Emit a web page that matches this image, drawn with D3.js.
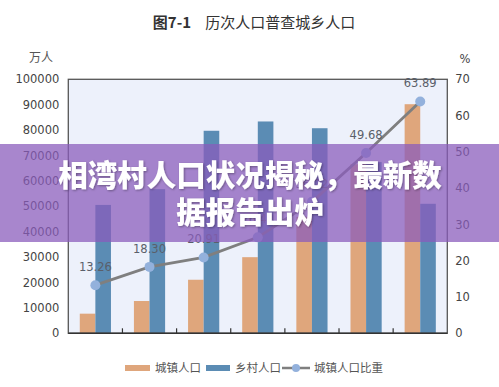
<!DOCTYPE html>
<html><head><meta charset="utf-8">
<script src="https://cdn.jsdelivr.net/npm/d3@7"></script>
<style>
html,body{margin:0;padding:0;background:#fff;}
svg{display:block;}
</style></head>
<body>
<svg id="chart" width="499" height="387"></svg>
<script>
const categories = ["1953","1964","1982","1990","2000","2010","2020"];
const urban = [7726, 12710, 21082, 29971, 45844, 66557, 90199];
const rural = [50534, 56748, 79736, 83397, 80739, 67415, 50979];
const ratio = [13.26, 18.30, 20.91, 26.44, 36.22, 49.68, 63.89];
const leftTicks = [0,10000,20000,30000,40000,50000,60000,70000,80000,90000,100000];
const rightTicks = [0,10,20,30,40,50,60,70];
const seriesNames = ["城镇人口","乡村人口","城镇人口比重"];
const titleText = ["图7-1","历次人口普查城乡人口"];
const bannerLines = ["相湾村人口状况揭秘，最新数","据报告出炉"];

const svg = d3.select("#chart");
const L = 68.3, R = 447.3, T = 79.3, B = 333.3;
const cOrange = "#dfa67c", cBlue = "#5b8cb4", cLine = "#7f7f7f", cMark = "#93b1dc";
const numFont = "DejaVu Sans, sans-serif";
const cjkFont = "'Noto Sans CJK SC', sans-serif";

const x0 = d3.scaleBand().domain(categories).range([L, R]).paddingInner(0.424).paddingOuter(0.212);
const x1 = d3.scaleBand().domain(["u","r"]).range([0, x0.bandwidth()]);
const yL = d3.scaleLinear().domain([0, 100000]).range([B, T]);
const yR = d3.scaleLinear().domain([0, 70]).range([B, T]);

// title
const tt = svg.append("text").attr("x", 254).attr("y", 28).attr("text-anchor", "middle")
  .attr("fill", "#333").attr("font-family", cjkFont).attr("font-size", 15);
tt.append("tspan").attr("font-weight", "bold").text(titleText[0]);
tt.append("tspan").attr("dx", 14).text(titleText[1]);

// plot background
svg.append("rect").attr("x", L).attr("y", T).attr("width", R - L).attr("height", B - T).attr("fill", "#edf1fb");

// bars
const g = svg.append("g");
categories.forEach((c, i) => {
  g.append("rect").attr("x", x0(c) + x1("u")).attr("width", x1.bandwidth())
    .attr("y", yL(urban[i])).attr("height", B - yL(urban[i])).attr("fill", cOrange);
  g.append("rect").attr("x", x0(c) + x1("r")).attr("width", x1.bandwidth())
    .attr("y", yL(rural[i])).attr("height", B - yL(rural[i])).attr("fill", cBlue);
});

// border
svg.append("rect").attr("x", L).attr("y", T).attr("width", R - L).attr("height", B - T)
  .attr("fill", "none").attr("stroke", "#555").attr("stroke-width", 1.3);
svg.append("line").attr("x1", L).attr("x2", R).attr("y1", B).attr("y2", B).attr("stroke", "#333").attr("stroke-width", 1.6);

// x ticks at group boundaries
const step = x0.step();
for (let i = 1; i < categories.length; i++) {
  const xx = L + step * i;
  svg.append("line").attr("x1", xx).attr("x2", xx).attr("y1", B).attr("y2", B - 5).attr("stroke", "#333").attr("stroke-width", 1.2);
}

// left axis labels
const axL = svg.append("g").attr("transform", `translate(${L},0)`)
  .call(d3.axisLeft(yL).tickValues(leftTicks).tickSize(0).tickPadding(9).tickFormat(d3.format("d")));
axL.select(".domain").remove();
axL.selectAll("text").attr("font-family", numFont).attr("font-size", 11.5).attr("fill", "#444");

const axR = svg.append("g").attr("transform", `translate(${R},0)`)
  .call(d3.axisRight(yR).tickValues(rightTicks).tickSize(0).tickPadding(8).tickFormat(d3.format("d")));
axR.select(".domain").remove();
axR.selectAll("text").attr("font-family", numFont).attr("font-size", 11.5).attr("fill", "#444");

svg.append("text").attr("x", 41).attr("y", 62).attr("text-anchor", "middle")
  .attr("font-family", cjkFont).attr("font-size", 12).attr("fill", "#555").text("万人");
svg.append("text").attr("x", 465).attr("y", 63).attr("text-anchor", "middle")
  .attr("font-family", numFont).attr("font-size", 11.5).attr("fill", "#444").text("%");

// line
const cx = c => x0(c) + x0.bandwidth() / 2;
const line = d3.line().x((d, i) => cx(categories[i])).y(d => yR(d));
svg.append("path").datum(ratio).attr("d", line).attr("fill", "none").attr("stroke", cLine).attr("stroke-width", 2.8);
svg.selectAll("circle.pt").data(ratio).enter().append("circle")
  .attr("cx", (d, i) => cx(categories[i])).attr("cy", d => yR(d)).attr("r", 5).attr("fill", cMark);
svg.selectAll("text.lab").data(ratio).enter().append("text")
  .attr("x", (d, i) => cx(categories[i])).attr("y", d => yR(d) - 14)
  .attr("text-anchor", "middle").attr("font-family", numFont).attr("font-size", 11.5).attr("fill", "#5a5f6a")
  .text(d => d.toFixed(2));

// legend
const lg = svg.append("g").attr("font-family", cjkFont).attr("font-size", 11.5).attr("fill", "#555");
lg.append("rect").attr("x", 125).attr("y", 365).attr("width", 25).attr("height", 6).attr("fill", cOrange);
lg.append("text").attr("x", 155).attr("y", 372).text(seriesNames[0]);
lg.append("rect").attr("x", 206).attr("y", 365).attr("width", 24).attr("height", 6).attr("fill", cBlue);
lg.append("text").attr("x", 235).attr("y", 372).text(seriesNames[1]);
lg.append("line").attr("x1", 282).attr("x2", 310).attr("y1", 368).attr("y2", 368).attr("stroke", cLine).attr("stroke-width", 2.5);
lg.append("circle").attr("cx", 296).attr("cy", 368).attr("r", 4).attr("fill", cMark);
lg.append("text").attr("x", 314).attr("y", 372).text(seriesNames[2]);

// banner overlay
svg.append("rect").attr("x", 0).attr("y", 144).attr("width", 499).attr("height", 98).attr("fill", "rgba(138,92,188,0.74)");
const defs = svg.append("defs");
const f = defs.append("filter").attr("id", "sh").attr("x", "-10%").attr("y", "-10%").attr("width", "120%").attr("height", "130%");
f.append("feDropShadow").attr("dx", 1).attr("dy", 1).attr("stdDeviation", 1).attr("flood-color", "#000").attr("flood-opacity", 0.35);
bannerLines.forEach((t, i) => {
  svg.append("text").attr("x", 250).attr("y", 186 + i * 37).attr("text-anchor", "middle")
    .attr("font-family", cjkFont).attr("font-weight", 900).attr("font-size", 29.5)
    .attr("fill", "#fff").attr("filter", "url(#sh)").text(t);
});
</script>
</body></html>
